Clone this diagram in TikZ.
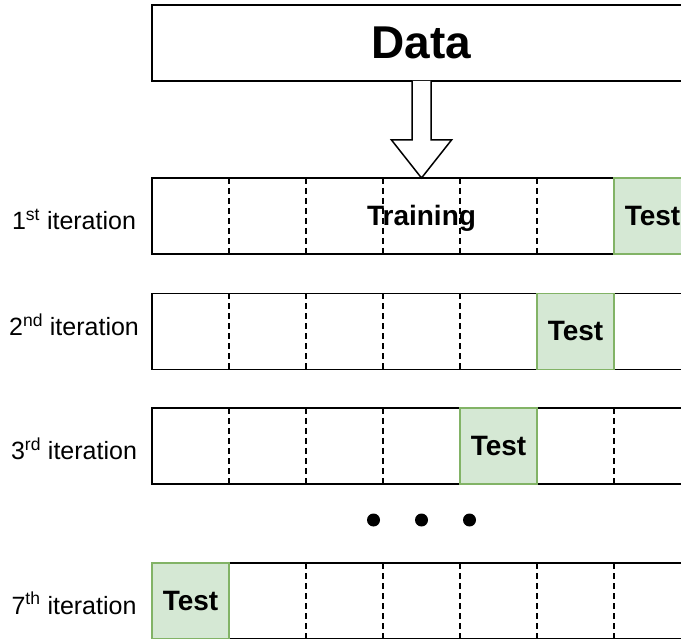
\documentclass[tikz,border=0pt]{standalone}
\usepackage{fontspec}
\setmainfont{Liberation Sans}
\usetikzlibrary{positioning,calc}
\definecolor{cvGreen}{RGB}{213,232,212}
\definecolor{cvGreenLine}{RGB}{130,179,102}

\begin{document}
\begin{tikzpicture}[
    x=1pt, y=-1pt,
    cell/.style={rectangle, minimum width=77pt, minimum height=76pt, inner sep=0pt, outer sep=0pt},
    frame/.style={draw=black, line width=1.6pt},
    split/.style={draw=black, line width=1.3pt, dash pattern=on 6pt off 4pt},
    testcell/.style={cell, draw=cvGreenLine, line width=1.4pt, fill=cvGreen, font=\fontsize{28}{32}\selectfont\bfseries},
    iter/.style={anchor=base, font=\fontsize{25}{29}\selectfont},
    block/.style={draw=black, line width=1.5pt, fill=white}
]
  \useasboundingbox (0,0) rectangle (681,639);
  \clip (0,0) rectangle (681,639);

  \node[cell, frame, minimum width=539pt, font=\fontsize{46}{52}\selectfont\bfseries] (data) at (421.5,43) {Data};

  % the folds, one row per iteration (\b is the baseline of its label)
  \foreach \r/\y/\b/\t/\ord in {1/216/230/7/st, 2/331.5/336/6/nd, 3/446/460/5/rd, 7/601/614/1/th}{
    \foreach \i in {1,...,7}
      \node[cell] (r\r c\i) at ({152+77*(\i-0.5)},\y) {};
    \foreach \i in {1,...,6}
      \draw[split] (r\r c\i.north east) -- (r\r c\i.south east);
    \draw[frame] (r\r c1.north west) rectangle (r\r c7.south east);
    \node[testcell] (t\r) at (r\r c\t) {Test};
    \node[iter] (lab\r) at (74,\b) {\r\textsuperscript{\ord} iteration};
  }
  \node[anchor=base, font=\fontsize{28}{32}\selectfont\bfseries] (train) at ($(r1c4)+(0,10)$) {Training};

  % hollow arrow from the data down to the first fold
  \coordinate (neck) at ($(data.south)+(0,59)$);
  \draw[block] ($(data.south)+(-9.5,0)$) -- ($(neck)+(-9.5,0)$) -- ($(neck)+(-30,0)$)
    -- (r1c4.north) -- ($(neck)+(30,0)$) -- ($(neck)+(9.5,0)$) -- ($(data.south)+(9.5,0)$);

  \foreach \k in {-1,0,1}
    \fill ({421.5+48*\k},520) circle (6.5pt);
\end{tikzpicture}
\end{document}
